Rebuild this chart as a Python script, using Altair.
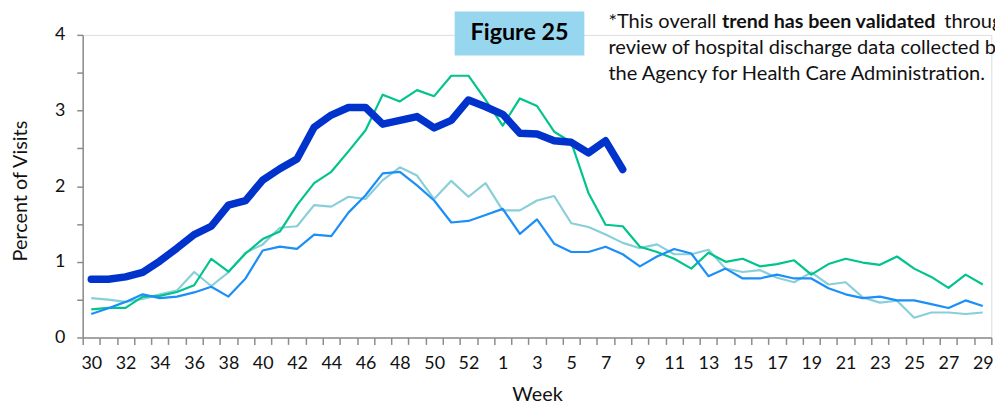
import altair as alt
import pandas as pd

# Week categories (2014-15 season has a week 53)
weeks = [str(w) for w in list(range(30, 54)) + list(range(1, 30))]
labelled_weeks = weeks[::2]

# Current season (thick line), weeks 30..8
current = [0.77, 0.77, 0.80, 0.86, 1.01, 1.18, 1.36, 1.47, 1.75, 1.81,
           2.08, 2.23, 2.36, 2.78, 2.94, 3.04, 3.04, 2.82, 2.87, 2.92,
           2.77, 2.87, 3.14, 3.05, 2.95, 2.70, 2.69, 2.60, 2.58, 2.44,
           2.60, 2.22]

# Prior seasons, weeks 30..29
season_green = [0.37, 0.39, 0.39, 0.54, 0.55, 0.60, 0.69, 1.04, 0.87, 1.11,
                1.30, 1.40, 1.75, 2.04, 2.19, 2.46, 2.74, 3.21, 3.12, 3.27,
                3.19, 3.46, 3.46, 3.14, 2.80, 3.16, 3.06, 2.72, 2.58, 1.91,
                1.49, 1.47, 1.20, 1.13, 1.04, 0.91, 1.12, 1.00, 1.04, 0.94,
                0.97, 1.02, 0.83, 0.97, 1.04, 0.99, 0.96, 1.07, 0.91, 0.80,
                0.655, 0.83, 0.70]
season_blue = [0.31, 0.385, 0.47, 0.57, 0.52, 0.54, 0.595, 0.67, 0.54, 0.78,
               1.15, 1.20, 1.17, 1.36, 1.34, 1.65, 1.88, 2.17, 2.19, 2.01,
               1.81, 1.52, 1.54, 1.62, 1.70, 1.37, 1.56, 1.24, 1.13, 1.13,
               1.20, 1.10, 0.94, 1.07, 1.17, 1.11, 0.81, 0.91, 0.78, 0.78,
               0.83, 0.78, 0.78, 0.65, 0.57, 0.52, 0.54, 0.49, 0.49, 0.44,
               0.39, 0.49, 0.415]
season_cyan = [0.52, 0.50, 0.47, 0.51, 0.57, 0.62, 0.865, 0.68, 0.86, 1.12,
               1.23, 1.45, 1.47, 1.75, 1.73, 1.86, 1.83, 2.08, 2.25, 2.14,
               1.83, 2.07, 1.86, 2.04, 1.68, 1.68, 1.81, 1.87, 1.51, 1.46,
               1.36, 1.25, 1.18, 1.23, 1.10, 1.10, 1.16, 0.91, 0.865, 0.89,
               0.79, 0.73, 0.86, 0.70, 0.73, 0.53, 0.46, 0.485, 0.26, 0.33,
               0.33, 0.31, 0.33]

series_names = ["Season A", "Season B", "Season C"]
series_colors = ["#88CFDA", "#00C48C", "#1C8EF7"]
current_color = "#0033CC"

rows = []
for name, vals in zip(series_names, [season_cyan, season_green, season_blue]):
    for w, v in zip(weeks, vals):
        rows.append({"week": w, "pct": v, "season": name})
thin_df = pd.DataFrame(rows)
cur_df = pd.DataFrame({"week": weeks[:len(current)], "pct": current})

FONT = "Lato"
lab_list = "[" + ",".join("'" + w + "'" for w in labelled_weeks) + "]"

x_enc = alt.X(
    "week:N",
    scale=alt.Scale(domain=weeks, type="band", paddingInner=0, paddingOuter=0),
    bandPosition=0.5,
    axis=alt.Axis(
        title="Week", tickBand="extent", labelAngle=0, labelOverlap=False,
        labelExpr="indexof(" + lab_list + ", datum.value) >= 0 ? datum.label : ''",
        grid=False, tickSize=7, tickColor="#8C8C8C", tickWidth=1.5,
        domainColor="#8C8C8C", domainWidth=1.5,
        labelFontSize=18, labelColor="#111111", labelPadding=10, labelFont=FONT,
        titleFontSize=20, titleFontWeight="normal", titleColor="#111111",
        titleFont=FONT, titleX=458, titleY=64, titleBaseline="alphabetic",
    ),
)
y_enc = alt.Y(
    "pct:Q",
    scale=alt.Scale(domain=[0, 4], nice=False),
    axis=alt.Axis(
        title="Percent of Visits", values=[0, 0.5, 1, 1.5, 2, 2.5, 3, 3.5, 4],
        labelExpr="datum.value % 1 == 0 ? format(datum.value, 'd') : ''",
        grid=False, tickSize=6, tickColor="#8C8C8C", tickWidth=1.5,
        domainColor="#8C8C8C", domainWidth=1.5,
        labelFontSize=18, labelColor="#111111", labelPadding=12, labelFont=FONT,
        titleFontSize=20, titleFontWeight="normal", titleColor="#111111",
        titleFont=FONT, titleX=-63, titleY=157, titleBaseline="middle",
    ),
)

thin = alt.Chart(thin_df).mark_line(strokeWidth=2.2, strokeJoin="round").encode(
    x=x_enc, y=y_enc,
    color=alt.Color("season:N", scale=alt.Scale(domain=series_names, range=series_colors), legend=None),
)
thick = alt.Chart(cur_df).mark_line(
    strokeWidth=7.5, color=current_color, strokeCap="round", strokeJoin="round"
).encode(x=x_enc, y=y_enc)

one = pd.DataFrame({"a": [1]})
box = alt.Chart(one).mark_rect(color="#96D6EE").encode(
    x=alt.value(375), x2=alt.value(505.7), y=alt.value(-23.5), y2=alt.value(20.8)
)
fig_text = alt.Chart(one).mark_text(
    text="Figure 25", font=FONT, fontSize=23.5, fontWeight="bold", color="#000000",
    align="center", baseline="middle"
).encode(x=alt.value(440.4), y=alt.value(-1.5))

note_parts = [
    ("*This overall", "normal", 20.2, 530, -6.8),
    ("trend has been validated", "bold", 19.8, 644.4, -6.8),
    ("through", "normal", 20.2, 868.5, -6.8),
    ("review of hospital discharge data collected by", "normal", 20.2, 530, 19.4),
    ("the Agency for Health Care Administration.", "normal", 20.2, 530, 45.8),
]
note_layers = []
for txt, wt, fs, xx, yy in note_parts:
    note_layers.append(
        alt.Chart(one).mark_text(
            text=txt, font=FONT, fontSize=fs, fontWeight=wt, color="#111111",
            align="left", baseline="alphabetic"
        ).encode(x=alt.value(xx), y=alt.value(yy))
    )

chart = alt.layer(thin, thick, box, fig_text, *note_layers).properties(
    width=916, height=305,
    padding={"left": 75.3, "top": 25.5, "right": 3.7, "bottom": 66.5},
    autosize=alt.AutoSizeParams(type="none"),
).configure_view(stroke=None).configure(font=FONT)

chart.save("out.html", embed_options={"renderer": "svg", "actions": False})
